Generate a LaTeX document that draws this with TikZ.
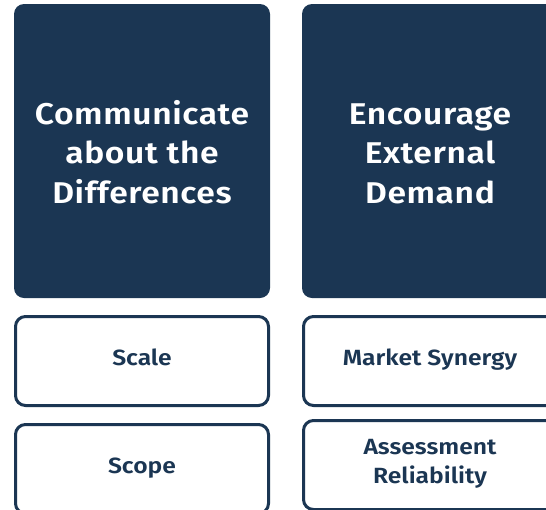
\documentclass[tikz,border=0pt]{standalone}
\usepackage{fontspec}
\setmainfont{Fira Sans}
\newfontfamily\headfont{Fira Sans SemiBold}[FakeStretch=1.12,LetterSpace=2]
\newfontfamily\itemfont{Fira Sans SemiBold}[FakeStretch=1.12]
\definecolor{navy}{RGB}{27,54,83}

\begin{document}
\begin{tikzpicture}[x=1pt,y=-1pt,
    tnode/.style={fill=navy,rounded corners=10pt,minimum width=256pt,minimum height=294pt,inner sep=0pt,text=white,align=center,text height=104pt,text depth=0pt,font=\headfont\fontsize{30}{39.5}\selectfont},
    bnode/.style={draw=navy,line width=3pt,fill=white,rounded corners=10pt,minimum width=253pt,minimum height=89pt,inner sep=0pt,text=navy,align=center,text height=14pt,text depth=6pt,font=\itemfont\fontsize{22}{29}\selectfont}]
    \useasboundingbox (0,0) rectangle (546,509);

    \node[tnode] (comm) at (142,151) {Communicate\\about the\\Differences};
    \node[tnode] (enc) at (430,151) {Encourage\\External\\Demand};

    \node[bnode] (scale) at (142,361) {Scale};
    \node[bnode] (scope) at (142,469) {Scope};
    \node[bnode] (market) at (430,361) {Market Synergy};
    \node[bnode,text height=43pt] (assess) at (430,465) {Assessment\\Reliability};
\end{tikzpicture}
\end{document}
